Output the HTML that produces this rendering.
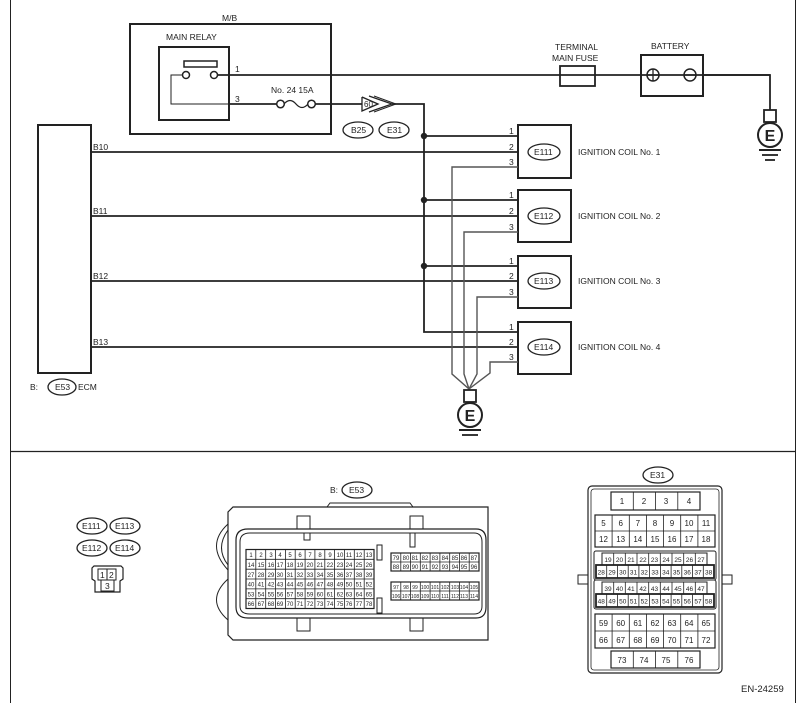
<!DOCTYPE html>
<html><head><meta charset="utf-8"><style>
html,body{margin:0;padding:0;background:#fff}
svg{display:block}
text{font-family:"Liberation Sans",Arial,sans-serif;fill:#222}
</style></head><body>
<svg width="804" height="703" viewBox="0 0 804 703" xmlns="http://www.w3.org/2000/svg">
<g fill="none" stroke="#222">
<line x1="10.5" y1="0" x2="10.5" y2="703" stroke-width="1"/>
<line x1="795.5" y1="0" x2="795.5" y2="703" stroke-width="1"/>
<line x1="10" y1="451.5" x2="795" y2="451.5" stroke-width="1.2"/>
<rect x="130" y="24" width="201" height="110" stroke-width="2"/>
<rect x="159" y="47" width="70" height="73" stroke-width="2"/>
<rect x="184" y="61" width="33" height="6" stroke-width="1.5"/>
<circle cx="186" cy="75" r="3.5" stroke-width="1.5"/>
<circle cx="214" cy="75" r="3.5" stroke-width="1.5"/>
<polyline points="182.5,75 171,75 171,104 229,104" stroke-width="1"/>
<line x1="217.5" y1="75" x2="770" y2="75" stroke-width="1.8"/>
<line x1="229" y1="104" x2="277" y2="104" stroke-width="1.8"/>
<circle cx="280.5" cy="104" r="3.8" stroke-width="1.5"/>
<path d="M284 104 Q290 97 296 104 Q302 111 308 104" stroke-width="1.3"/>
<circle cx="311.5" cy="104" r="3.8" stroke-width="1.5"/>
<line x1="315" y1="104" x2="362" y2="104" stroke-width="1.8"/>
<polyline points="362,97 378,104 362,111 362,97" stroke-width="1.3"/>
<polyline points="369,96 392,104 369,112" stroke-width="1.3"/>
<polyline points="374,96 396,104 374,112" stroke-width="1"/>
<polyline points="392,104 424,104 424,332 518,332" stroke-width="1.8"/>
<ellipse cx="358" cy="130" rx="15" ry="8" stroke-width="1.3"/>
<ellipse cx="394" cy="130" rx="15" ry="8" stroke-width="1.3"/>
<rect x="560" y="66" width="35" height="20" stroke-width="1.8"/>
<rect x="641" y="55" width="62" height="41" stroke-width="2"/>
<circle cx="653" cy="75" r="6" stroke-width="1.5"/>
<line x1="647" y1="75" x2="659" y2="75" stroke-width="1.3"/>
<line x1="653" y1="69" x2="653" y2="81" stroke-width="1.3"/>
<circle cx="690" cy="75" r="6" stroke-width="1.5"/>
<line x1="684" y1="75" x2="696" y2="75" stroke-width="1.3"/>
<polyline points="703,75 770,75 770,110" stroke-width="1.8"/>
<rect x="764" y="110" width="12" height="12" stroke-width="1.8"/>
<circle cx="770" cy="135" r="12" stroke-width="2"/>
<line x1="759" y1="150" x2="781" y2="150" stroke-width="2"/>
<line x1="762" y1="155" x2="778" y2="155" stroke-width="1.8"/>
<line x1="765" y1="160" x2="775" y2="160" stroke-width="1.8"/>
<rect x="38" y="125" width="53" height="248" stroke-width="2"/>
<line x1="91" y1="152" x2="518" y2="152" stroke-width="1.8"/>
<line x1="91" y1="216" x2="518" y2="216" stroke-width="1.8"/>
<line x1="91" y1="281" x2="518" y2="281" stroke-width="1.8"/>
<line x1="91" y1="347" x2="518" y2="347" stroke-width="1.8"/>
<ellipse cx="62" cy="387" rx="14" ry="8" stroke-width="1.3"/>
<rect x="518" y="125" width="53" height="53" stroke-width="2"/>
<rect x="518" y="190" width="53" height="52" stroke-width="2"/>
<rect x="518" y="256" width="53" height="52" stroke-width="2"/>
<rect x="518" y="322" width="53" height="52" stroke-width="2"/>
<line x1="424" y1="136" x2="518" y2="136" stroke-width="1.8"/>
<line x1="424" y1="200" x2="518" y2="200" stroke-width="1.8"/>
<line x1="424" y1="266" x2="518" y2="266" stroke-width="1.8"/>
<ellipse cx="544" cy="152" rx="16" ry="8" stroke-width="1.3"/>
<ellipse cx="544" cy="216" rx="16" ry="8" stroke-width="1.3"/>
<ellipse cx="544" cy="281" rx="16" ry="8" stroke-width="1.3"/>
<ellipse cx="544" cy="347" rx="16" ry="8" stroke-width="1.3"/>
<g stroke="#555" stroke-width="1.4">
<polyline points="518,167 452,167 452,374 469,389"/>
<polyline points="518,232 464,232 464,374 469,389"/>
<polyline points="518,297 477,297 477,374 469,389"/>
<polyline points="518,362 490,362 490,373 469,389"/>
</g>
<rect x="464" y="390" width="12" height="12" stroke-width="1.8"/>
<circle cx="470" cy="415" r="12" stroke-width="2"/>
<line x1="459" y1="430" x2="481" y2="430" stroke-width="2"/>
<line x1="462" y1="435" x2="478" y2="435" stroke-width="1.8"/>
<ellipse cx="92" cy="526" rx="15" ry="8" stroke-width="1.3"/>
<ellipse cx="125" cy="526" rx="15" ry="8" stroke-width="1.3"/>
<ellipse cx="92" cy="548" rx="15" ry="8" stroke-width="1.3"/>
<ellipse cx="125" cy="548" rx="15" ry="8" stroke-width="1.3"/>
<path d="M94 566 L121 566 L123 568 L123 579 L120 581 L120 592 L95 592 L95 581 L92 579 L92 568 Z" stroke-width="1.2"/>
<rect x="98" y="569" width="9" height="11" stroke-width="1"/>
<rect x="107" y="569" width="9" height="11" stroke-width="1"/>
<rect x="101" y="580" width="13" height="11" stroke-width="1"/>
<ellipse cx="357" cy="490" rx="15" ry="8" stroke-width="1.3"/>
<path d="M233 507 L488 507 L488 640 L233 640 L228 635 L228 512 Z" stroke-width="1.2"/>
<path d="M327 507 L330 503 L410 503 L413 507" stroke-width="1"/>
<path d="M248 529 L476 529 Q486 529 486 540 L486 607 Q486 618 476 618 L248 618 Q236 618 236 607 L236 540 Q236 529 248 529 Z" stroke-width="1.2"/>
<path d="M250 533 L474 533 Q482 533 482 542 L482 606 Q482 614 474 614 L250 614 Q240 614 240 606 L240 542 Q240 533 250 533 Z" stroke-width="1"/>
<path d="M228 524 Q205 545 228 570 M228 530 Q215 548 228 565" stroke-width="1"/>
<path d="M228 579 Q205 600 228 620" stroke-width="1"/>
<rect x="297" y="516" width="13" height="13" stroke-width="1"/>
<rect x="410" y="516" width="13" height="13" stroke-width="1"/>
<rect x="297" y="618" width="13" height="13" stroke-width="1"/>
<rect x="410" y="618" width="13" height="13" stroke-width="1"/>
<rect x="304" y="533" width="6" height="7" stroke-width="1"/>
<rect x="377" y="545" width="5" height="15" stroke-width="1"/>
<rect x="410" y="533" width="5" height="14" stroke-width="1"/>
<rect x="377" y="598" width="5" height="15" stroke-width="1"/>
<rect x="246" y="549.5" width="128" height="59" stroke-width="1.2"/>
<path d="M246 559.3H374M246 569.2H374M246 579H374M246 588.9H374M246 598.7H374 M255.8 549.5V608.5M265.7 549.5V608.5M275.5 549.5V608.5M285.4 549.5V608.5M295.2 549.5V608.5M305.1 549.5V608.5M314.9 549.5V608.5M324.8 549.5V608.5M334.6 549.5V608.5M344.5 549.5V608.5M354.3 549.5V608.5M364.2 549.5V608.5" stroke-width="0.8"/>
<rect x="391" y="553" width="88" height="18" stroke-width="1.2"/>
<rect x="391" y="582" width="88" height="18" stroke-width="1.2"/>
<path d="M391 562H479M391 591H479 M400.8 553V571M410.6 553V571M420.3 553V571M430.1 553V571M439.9 553V571M449.7 553V571M459.4 553V571M469.2 553V571 M400.8 582V600M410.6 582V600M420.3 582V600M430.1 582V600M439.9 582V600M449.7 582V600M459.4 582V600M469.2 582V600" stroke-width="0.8"/>
<ellipse cx="658" cy="475" rx="15" ry="8" stroke-width="1.3"/>
<rect x="588" y="486" width="134" height="187" rx="4" stroke-width="1.2"/>
<rect x="591" y="489" width="128" height="181" rx="3" stroke-width="0.8"/>
<rect x="578" y="575" width="10" height="9" stroke-width="1"/>
<rect x="722" y="575" width="10" height="9" stroke-width="1"/>
<rect x="611" y="492" width="89" height="18" stroke-width="1.2"/>
<path d="M633.3 492V510M655.5 492V510M677.8 492V510" stroke-width="0.8"/>
<rect x="595" y="515" width="120" height="32" stroke-width="1.2"/>
<path d="M595 531H715 M612.1 515V547M629.3 515V547M646.4 515V547M663.6 515V547M680.7 515V547M697.9 515V547" stroke-width="0.8"/>
<rect x="594" y="551" width="122" height="29" rx="2" stroke-width="1"/>
<rect x="602" y="553" width="105" height="12" stroke-width="1"/>
<rect x="596" y="565" width="118" height="13" stroke-width="1.8"/>
<path d="M613.7 553V565M625.3 553V565M637 553V565M648.7 553V565M660.3 553V565M672 553V565M683.7 553V565M695.3 553V565 M606.7 565V578M617.5 565V578M628.2 565V578M638.9 565V578M649.6 565V578M660.4 565V578M671.1 565V578M681.8 565V578M692.5 565V578M703.3 565V578" stroke-width="0.8"/>
<rect x="594" y="580" width="122" height="29" rx="2" stroke-width="1"/>
<rect x="602" y="582" width="105" height="12" stroke-width="1"/>
<rect x="596" y="594" width="118" height="13" stroke-width="1.8"/>
<path d="M613.7 582V594M625.3 582V594M637 582V594M648.7 582V594M660.3 582V594M672 582V594M683.7 582V594M695.3 582V594 M606.7 594V607M617.5 594V607M628.2 594V607M638.9 594V607M649.6 594V607M660.4 594V607M671.1 594V607M681.8 594V607M692.5 594V607M703.3 594V607" stroke-width="0.8"/>
<rect x="595" y="614" width="120" height="34" stroke-width="1.2"/>
<path d="M595 631H715 M612.1 614V648M629.3 614V648M646.4 614V648M663.6 614V648M680.7 614V648M697.9 614V648" stroke-width="0.8"/>
<rect x="611" y="651" width="89" height="17" stroke-width="1.2"/>
<path d="M633.3 651V668M655.5 651V668M677.8 651V668" stroke-width="0.8"/>
</g>
<g fill="#222">
<circle cx="424" cy="136" r="3.2"/><circle cx="424" cy="200" r="3.2"/><circle cx="424" cy="266" r="3.2"/>
</g>
<g font-size="8.5">
<text x="222" y="21">M/B</text>
<text x="166" y="40">MAIN RELAY</text>
<text x="235" y="72">1</text>
<text x="235" y="102">3</text>
<text x="271" y="93">No. 24  15A</text>
<text x="364" y="107" font-size="8">60</text>
<text x="351" y="133">B25</text>
<text x="387" y="133">E31</text>
<text x="555" y="50">TERMINAL</text>
<text x="552" y="61">MAIN FUSE</text>
<text x="651" y="49">BATTERY</text>
<text x="93" y="150">B10</text>
<text x="93" y="214">B11</text>
<text x="93" y="279">B12</text>
<text x="93" y="345">B13</text>
<text x="30" y="390">B:</text>
<text x="55" y="390">E53</text>
<text x="78" y="390">ECM</text>
<text x="509" y="134">1</text><text x="509" y="150">2</text><text x="509" y="165">3</text>
<text x="509" y="198">1</text><text x="509" y="214">2</text><text x="509" y="230">3</text>
<text x="509" y="264">1</text><text x="509" y="279">2</text><text x="509" y="295">3</text>
<text x="509" y="330">1</text><text x="509" y="345">2</text><text x="509" y="360">3</text>
<text x="534" y="155">E111</text><text x="534" y="219">E112</text><text x="534" y="284">E113</text><text x="534" y="350">E114</text>
<text x="578" y="155">IGNITION COIL No. 1</text>
<text x="578" y="219">IGNITION COIL No. 2</text>
<text x="578" y="284">IGNITION COIL No. 3</text>
<text x="578" y="350">IGNITION COIL No. 4</text>
<text x="82" y="529">E111</text><text x="115" y="529">E113</text>
<text x="82" y="551">E112</text><text x="115" y="551">E114</text>
<text x="100" y="578">1</text><text x="109" y="578">2</text><text x="105" y="589">3</text>
<text x="330" y="493">B:</text><text x="349" y="493">E53</text>
<text x="650" y="478">E31</text>
<text x="741" y="692" font-size="9.5">EN-24259</text>
</g>
<g font-weight="bold" font-size="16" text-anchor="middle">
<text x="770" y="141">E</text><text x="470" y="421">E</text>
</g>
<g font-size="6" text-anchor="middle">
<text y="557"><tspan x="251">1</tspan><tspan x="261">2</tspan><tspan x="271">3</tspan><tspan x="280">4</tspan><tspan x="290">5</tspan><tspan x="300">6</tspan><tspan x="310">7</tspan><tspan x="320">8</tspan><tspan x="330">9</tspan><tspan x="340">10</tspan><tspan x="349">11</tspan><tspan x="359">12</tspan><tspan x="369">13</tspan></text>
<text y="567"><tspan x="251">14</tspan><tspan x="261">15</tspan><tspan x="271">16</tspan><tspan x="280">17</tspan><tspan x="290">18</tspan><tspan x="300">19</tspan><tspan x="310">20</tspan><tspan x="320">21</tspan><tspan x="330">22</tspan><tspan x="340">23</tspan><tspan x="349">24</tspan><tspan x="359">25</tspan><tspan x="369">26</tspan></text>
<text y="577"><tspan x="251">27</tspan><tspan x="261">28</tspan><tspan x="271">29</tspan><tspan x="280">30</tspan><tspan x="290">31</tspan><tspan x="300">32</tspan><tspan x="310">33</tspan><tspan x="320">34</tspan><tspan x="330">35</tspan><tspan x="340">36</tspan><tspan x="349">37</tspan><tspan x="359">38</tspan><tspan x="369">39</tspan></text>
<text y="586.5"><tspan x="251">40</tspan><tspan x="261">41</tspan><tspan x="271">42</tspan><tspan x="280">43</tspan><tspan x="290">44</tspan><tspan x="300">45</tspan><tspan x="310">46</tspan><tspan x="320">47</tspan><tspan x="330">48</tspan><tspan x="340">49</tspan><tspan x="349">50</tspan><tspan x="359">51</tspan><tspan x="369">52</tspan></text>
<text y="596.5"><tspan x="251">53</tspan><tspan x="261">54</tspan><tspan x="271">55</tspan><tspan x="280">56</tspan><tspan x="290">57</tspan><tspan x="300">58</tspan><tspan x="310">59</tspan><tspan x="320">60</tspan><tspan x="330">61</tspan><tspan x="340">62</tspan><tspan x="349">63</tspan><tspan x="359">64</tspan><tspan x="369">65</tspan></text>
<text y="606"><tspan x="251">66</tspan><tspan x="261">67</tspan><tspan x="271">68</tspan><tspan x="280">69</tspan><tspan x="290">70</tspan><tspan x="300">71</tspan><tspan x="310">72</tspan><tspan x="320">73</tspan><tspan x="330">74</tspan><tspan x="340">75</tspan><tspan x="349">76</tspan><tspan x="359">77</tspan><tspan x="369">78</tspan></text>
<text y="560"><tspan x="396">79</tspan><tspan x="406">80</tspan><tspan x="415">81</tspan><tspan x="425">82</tspan><tspan x="435">83</tspan><tspan x="445">84</tspan><tspan x="455">85</tspan><tspan x="464">86</tspan><tspan x="474">87</tspan></text>
<text y="569"><tspan x="396">88</tspan><tspan x="406">89</tspan><tspan x="415">90</tspan><tspan x="425">91</tspan><tspan x="435">92</tspan><tspan x="445">93</tspan><tspan x="455">94</tspan><tspan x="464">95</tspan><tspan x="474">96</tspan></text>
<text y="589" font-size="5"><tspan x="396">97</tspan><tspan x="406">98</tspan><tspan x="415">99</tspan><tspan x="425">100</tspan><tspan x="435">101</tspan><tspan x="445">102</tspan><tspan x="455">103</tspan><tspan x="464">104</tspan><tspan x="474">105</tspan></text>
<text y="598" font-size="5"><tspan x="396">106</tspan><tspan x="406">107</tspan><tspan x="415">108</tspan><tspan x="425">109</tspan><tspan x="435">110</tspan><tspan x="445">111</tspan><tspan x="455">112</tspan><tspan x="464">113</tspan><tspan x="474">114</tspan></text>
</g>
<g font-size="8" text-anchor="middle">
<text y="504"><tspan x="622">1</tspan><tspan x="644">2</tspan><tspan x="666">3</tspan><tspan x="689">4</tspan></text>
<text y="526"><tspan x="603.5">5</tspan><tspan x="620.7">6</tspan><tspan x="637.8">7</tspan><tspan x="655">8</tspan><tspan x="672">9</tspan><tspan x="689">10</tspan><tspan x="706">11</tspan></text>
<text y="542"><tspan x="603.5">12</tspan><tspan x="620.7">13</tspan><tspan x="637.8">14</tspan><tspan x="655">15</tspan><tspan x="672">16</tspan><tspan x="689">17</tspan><tspan x="706">18</tspan></text>
<text y="626"><tspan x="603.5">59</tspan><tspan x="620.7">60</tspan><tspan x="637.8">61</tspan><tspan x="655">62</tspan><tspan x="672">63</tspan><tspan x="689">64</tspan><tspan x="706">65</tspan></text>
<text y="643"><tspan x="603.5">66</tspan><tspan x="620.7">67</tspan><tspan x="637.8">68</tspan><tspan x="655">69</tspan><tspan x="672">70</tspan><tspan x="689">71</tspan><tspan x="706">72</tspan></text>
<text y="663"><tspan x="622">73</tspan><tspan x="644">74</tspan><tspan x="666">75</tspan><tspan x="689">76</tspan></text>
</g>
<g font-size="6.5" text-anchor="middle">
<text y="562"><tspan x="608">19</tspan><tspan x="619.5">20</tspan><tspan x="631">21</tspan><tspan x="643">22</tspan><tspan x="654.5">23</tspan><tspan x="666">24</tspan><tspan x="678">25</tspan><tspan x="689.5">26</tspan><tspan x="701">27</tspan></text>
<text y="574.5"><tspan x="601.3">28</tspan><tspan x="612">29</tspan><tspan x="622.8">30</tspan><tspan x="633.5">31</tspan><tspan x="644.3">32</tspan><tspan x="655">33</tspan><tspan x="665.7">34</tspan><tspan x="676.5">35</tspan><tspan x="687.2">36</tspan><tspan x="698">37</tspan><tspan x="708.6">38</tspan></text>
<text y="591"><tspan x="608">39</tspan><tspan x="619.5">40</tspan><tspan x="631">41</tspan><tspan x="643">42</tspan><tspan x="654.5">43</tspan><tspan x="666">44</tspan><tspan x="678">45</tspan><tspan x="689.5">46</tspan><tspan x="701">47</tspan></text>
<text y="603.5"><tspan x="601.3">48</tspan><tspan x="612">49</tspan><tspan x="622.8">50</tspan><tspan x="633.5">51</tspan><tspan x="644.3">52</tspan><tspan x="655">53</tspan><tspan x="665.7">54</tspan><tspan x="676.5">55</tspan><tspan x="687.2">56</tspan><tspan x="698">57</tspan><tspan x="708.6">58</tspan></text>
</g>
</svg>
</body></html>
